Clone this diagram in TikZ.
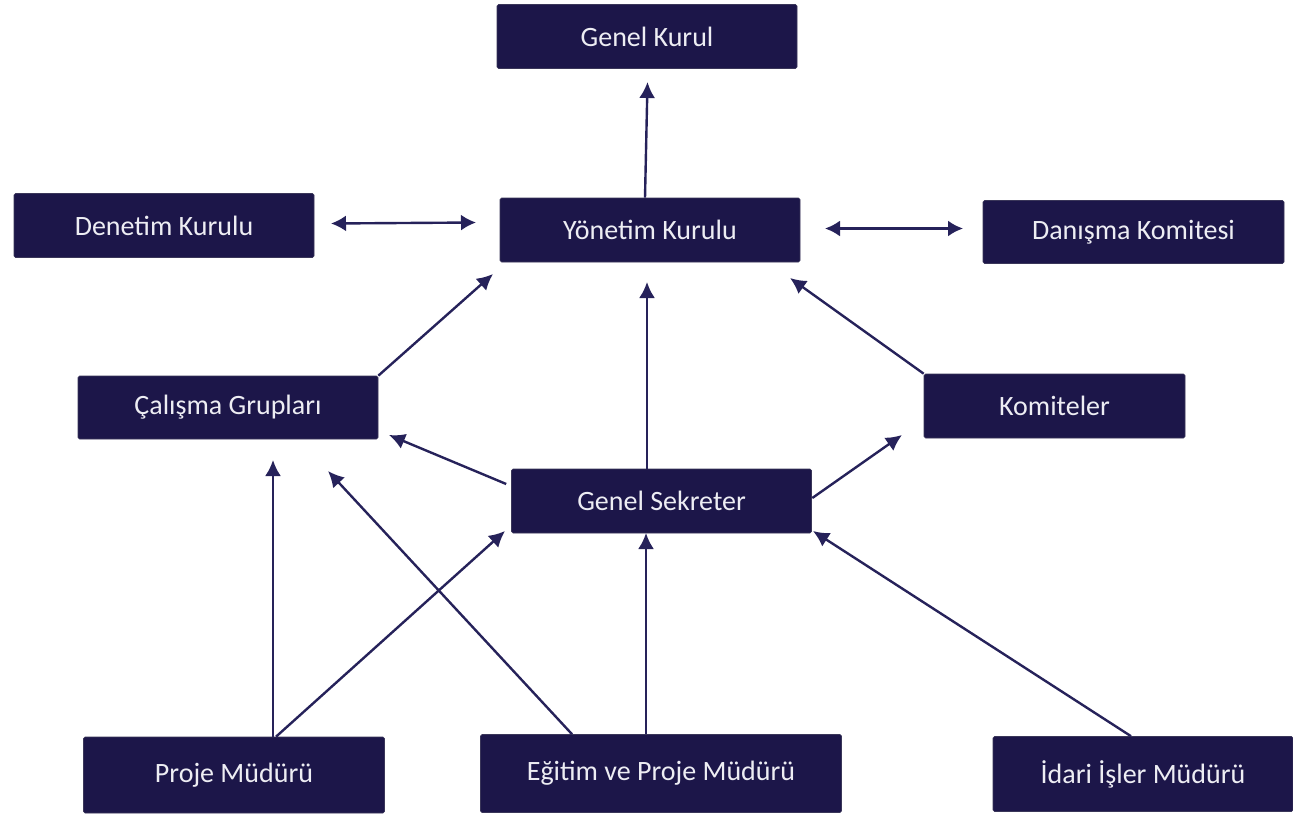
\documentclass[tikz,border=0pt]{standalone}
\usepackage{fontspec}
\setmainfont{Carlito}
\usetikzlibrary{arrows.meta,calc}
\definecolor{boxblue}{HTML}{1C1649}
\definecolor{linkblue}{HTML}{26225A}
\definecolor{boxtext}{HTML}{EDEDF3}
\begin{document}
\begin{tikzpicture}[x=1pt,y=-1pt,
  orgbox/.style={fill=boxblue,draw=boxblue!70!gray,line width=0.6pt,rounded corners=1.5pt,inner sep=0pt,
    text=boxtext,font=\fontsize{28}{34}\selectfont,minimum width=#1},
  orgbox/.default=300pt,
  link/.style={draw=linkblue,line width=2.4pt,-{Latex[length=16pt,width=16pt]}},
  duallink/.style={draw=linkblue,line width=2.4pt,{Latex[length=15pt,width=16pt]}-{Latex[length=15pt,width=16pt]}}]
\useasboundingbox (0,0) rectangle (1293,816);
% boxes
\node[orgbox,minimum height=64pt] (gk) at (647,36.5) {Genel Kurul};
\node[orgbox,minimum height=64pt] (dk) at (164,225.5) {Denetim Kurulu};
\node[orgbox,minimum height=64pt] (yk) at (650,230) {Yönetim Kurulu};
\node[orgbox=301pt,minimum height=63pt] (dn) at (1133.5,232) {Danışma Komitesi};
\node[orgbox,minimum height=63pt] (cg) at (228,407.5) {Çalışma Grupları};
\node[orgbox=261pt,minimum height=64pt] (km) at (1054.5,406) {Komiteler};
\node[orgbox,minimum height=64pt] (gs) at (661.5,501) {Genel Sekreter};
\node[orgbox=301pt,minimum height=76pt] (pm) at (234,775) {Proje Müdürü};
\node[orgbox=361pt,minimum height=78pt] (ep) at (661,773.5) {Eğitim ve Proje Müdürü};
\node[orgbox=300pt,minimum height=75pt] (id) at (1143,774) {İdari İşler Müdürü};
% arrow tips (free ends)
\coordinate (tgk) at (647.5,82);
\coordinate (tdkl) at (331,223.5);
\coordinate (tdkr) at (476,222.5);
\coordinate (tdnl) at (825,228.5);
\coordinate (tdnr) at (963,228.5);
\coordinate (tykcg) at (493,274);
\coordinate (tykgs) at (647,282);
\coordinate (tykkm) at (790,278);
\coordinate (tcggs) at (389,435);
\coordinate (tkmgs) at (902,435);
\coordinate (tcgpm) at (273,460);
\coordinate (tgspm) at (505,531);
\coordinate (tcgep) at (328,471);
\coordinate (tgsep) at (646,533);
\coordinate (tgsid) at (813,531);
% connectors
\draw[link] ($(yk.north)+(-5,0)$) -- (tgk);
\draw[duallink] (tdkl) -- (tdkr);
\draw[duallink] (tdnl) -- (tdnr);
\draw[link] (cg.north east) -- (tykcg);
\draw[link] ($(gs.north)+(-14.5,0)$) -- (tykgs);
\draw[link] (km.north west) -- (tykkm);
\draw[link] ($(gs.west)+(-5,-17)$) -- (tcggs);
\draw[link] ($(gs.east)+(0.5,-3)$) -- (tkmgs);
\draw[link] ($(pm.north)+(39,0)$) -- (tcgpm);
\draw[link] ($(pm.north)+(42,0)$) -- (tgspm);
\draw[link] ($(ep.north)+(-89,0)$) -- (tcgep);
\draw[link] ($(ep.north)+(-15,0)$) -- (tgsep);
\draw[link] ($(id.north)+(-12,0)$) -- (tgsid);
\end{tikzpicture}
\end{document}
